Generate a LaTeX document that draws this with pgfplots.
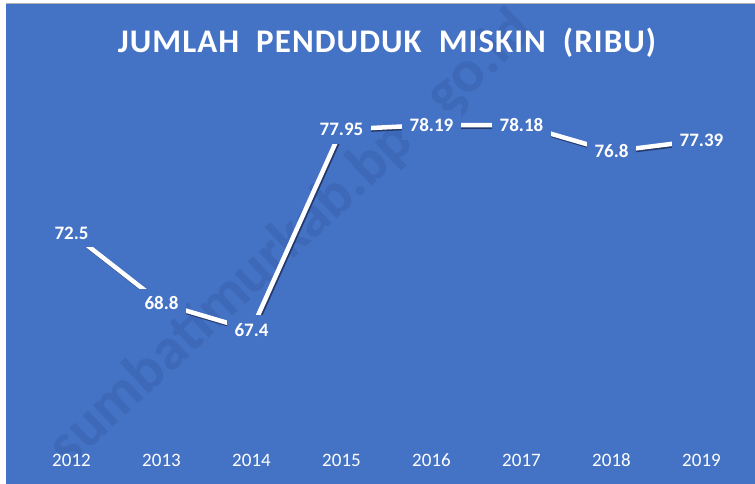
\documentclass[border=0pt]{standalone}
\usepackage{pgfplots}
\pgfplotsset{compat=1.18}
\usepackage{fontspec}
\setmainfont{Carlito}
\newfontfamily\titlefont[LetterSpace=3.2]{Carlito}
\definecolor{bgblue}{HTML}{4472C4}
\definecolor{shadowcol}{HTML}{22386A}
\definecolor{wmark}{HTML}{3E69B9}

\begin{document}
\begin{tikzpicture}[x=1pt,y=1pt]
\useasboundingbox (0,0) rectangle (755,484);
\fill[white] (0,0) rectangle (755,484);
\fill[bgblue] (6,0) rectangle (755,480);
\fill[black!30] (6,480) rectangle (755,481);

% watermark
\node[rotate=43, text=wmark, font=\bfseries\fontsize{60}{60}\selectfont]
  at (292,245) {sumbatimurkab.bps.go.id};

\node[text=white, font=\titlefont\bfseries\fontsize{33}{33}\selectfont]
  at (387,441.5) {JUMLAH\ \ PENDUDUK\ \ MISKIN\ \ (RIBU)};

\begin{axis}[
    at={(26.5pt,32.4pt)}, anchor=south west,
    scale only axis, width=720pt, height=361pt,
    xmin=2011.5, xmax=2019.5, ymin=61, ymax=80,
    axis line style={draw=none},
    major tick length=0pt,
    ytick=\empty,
    xtick=data,
    xticklabels={2012,2013,2014,2015,2016,2017,2018,2019},
    xticklabel style={anchor=center, yshift=-8.5pt, text=white,
        font=\fontsize{19}{19}\selectfont},
    clip=false,
    point meta=explicit symbolic,
]
\addplot[draw=shadowcol, line width=4.5pt, xshift=1.3pt, yshift=-1.5pt] coordinates {
  (2012,72.5) (2013,68.8) (2014,67.4) (2015,77.95)
  (2016,78.19) (2017,78.18) (2018,76.8) (2019,77.39)
};
\addplot[draw=white, line width=4.5pt,
    nodes near coords,
    every node near coord/.style={anchor=center, fill=bgblue, text=white,
        inner xsep=8pt, inner ysep=8pt,
        font=\bfseries\fontsize{19}{19}\selectfont}] coordinates {
  (2012,72.5) [72.5] (2013,68.8) [68.8] (2014,67.4) [67.4] (2015,77.95) [77.95]
  (2016,78.19) [78.19] (2017,78.18) [78.18] (2018,76.8) [76.8] (2019,77.39) [77.39]
};
\end{axis}
\end{tikzpicture}
\end{document}
